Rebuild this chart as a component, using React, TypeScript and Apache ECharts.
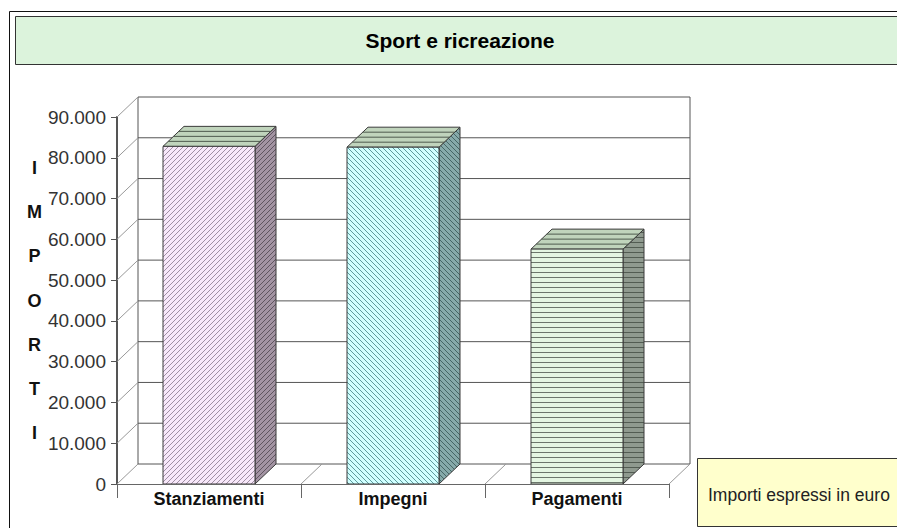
import React, { useEffect, useRef } from "react";
import * as echarts from "echarts";

const titleText = "Sport e ricreazione";
const noteText = "Importi espressi in euro";
const axisTitle = ["I", "M", "P", "O", "R", "T", "I"];
const categories = ["Stanziamenti", "Impegni", "Pagamenti"];
const amounts = [82800, 82600, 57600];
const tickValues = [0, 10000, 20000, 30000, 40000, 50000, 60000, 70000, 80000, 90000];
const bandIndexes = [0, 1, 2];

const DX = 21;
const DY = 20;
const FONT = '"Liberation Sans", Arial, sans-serif';

function hatch(kind: "up" | "down" | "flat", bg: string, fg: string) {
  const w = 5;
  const h = 5;
  const c = document.createElement("canvas");
  c.width = w;
  c.height = h;
  const g = c.getContext("2d")!;
  g.fillStyle = bg;
  g.fillRect(0, 0, w, h);
  g.strokeStyle = fg;
  g.lineWidth = 1;
  g.beginPath();
  if (kind === "flat") {
    g.moveTo(0, 2.5);
    g.lineTo(w, 2.5);
  } else if (kind === "up") {
    for (let k = -w; k <= w; k += w) {
      g.moveTo(k, h);
      g.lineTo(k + w, 0);
    }
  } else {
    for (let k = -w; k <= w; k += w) {
      g.moveTo(k, 0);
      g.lineTo(k + w, h);
    }
  }
  g.stroke();
  return { image: c, repeat: "repeat", imageWidth: w, imageHeight: h } as any;
}

export default function App() {
  const ref = useRef<HTMLDivElement>(null);
  useEffect(() => {
    const chart = echarts.init(ref.current!, undefined, { renderer: "svg" });
    const fronts = [
      hatch("up", "#f8e8fa", "#a08fa4"),
      hatch("down", "#d0ffff", "#5f9a9c"),
      hatch("flat", "#e4f6e2", "#6b766b"),
    ];
    const sides = [
      hatch("up", "#a394a3", "#5f545f"),
      hatch("down", "#86aaaa", "#456666"),
      hatch("flat", "#8f9a8f", "#525c52"),
    ];
    const wallLine = { stroke: "#555", lineWidth: 1 };
    const diagLine = { stroke: "#999", lineWidth: 1 };

    chart.setOption({
      animation: false,
      backgroundColor: "#fff",
      title: {
        text: titleText,
        left: 455,
        top: 25,
        textAlign: "center",
        textStyle: { fontFamily: FONT, fontSize: 21, fontWeight: "bold", color: "#000" },
      },
      graphic: [
        { type: "rect", z: -10, silent: true, shape: { x: 9.5, y: 11.5, width: 1000, height: 1000 }, style: { fill: "#fff", stroke: "#111", lineWidth: 1 } },
        { type: "rect", z: -9, silent: true, shape: { x: 15.5, y: 16.5, width: 1000, height: 48 }, style: { fill: "#dcf3dc", stroke: "#333", lineWidth: 1 } },
        { type: "rect", z: 20, silent: true, shape: { x: 697.5, y: 458.5, width: 300, height: 68 }, style: { fill: "#ffffcc", stroke: "#333", lineWidth: 1 } },
        { type: "text", z: 21, silent: true, style: { x: 708, y: 486, text: noteText, fill: "#222", font: `17.5px ${FONT}` } },
      ],
      grid: { left: 117, right: 228, top: 117, bottom: 44 },
      xAxis: {
        type: "category",
        data: categories,
        z: 5,
        axisLine: { lineStyle: { color: "#666", width: 1 } },
        axisTick: { show: true, length: 14, lineStyle: { color: "#666" } },
        axisLabel: { fontFamily: FONT, fontSize: 18, fontWeight: "bold", color: "#111", margin: 6 },
      },
      yAxis: {
        type: "value",
        min: 0,
        max: 90000,
        interval: 10000,
        name: axisTitle.join("\n"),
        nameLocation: "middle",
        nameRotate: 0,
        nameGap: 82,
        nameTextStyle: { fontFamily: FONT, fontSize: 18, fontWeight: "bold", color: "#111", lineHeight: 44.3, align: "center", padding: [20, 0, 0, 0] },
        splitLine: { show: false },
        axisLine: { show: true, lineStyle: { color: "#555", width: 2 } },
        axisTick: { show: true, length: 6, lineStyle: { color: "#555" } },
        axisLabel: {
          fontFamily: FONT,
          fontSize: 19,
          color: "#333",
          margin: 11,
          formatter: (v: number) => String(v).replace(/\B(?=(\d{3})+$)/g, "."),
        },
      },
      series: [
        {
          type: "custom",
          name: "griglia",
          silent: true,
          z: 1,
          encode: { x: 0, y: 1 },
          data: tickValues.map((v) => [0, v]),
          renderItem: (_p: any, api: any) => {
            const v = api.value(1);
            const band = api.size([1, 0])[0];
            const l = api.coord([0, v]);
            const r = api.coord([2, v]);
            const x0 = l[0] - band / 2;
            const x1 = r[0] + band / 2;
            const y = l[1];
            const children: any[] = [
              { type: "line", shape: { x1: x0 + DX, y1: y - DY, x2: x1 + DX, y2: y - DY }, style: wallLine },
              { type: "line", shape: { x1: x0, y1: y, x2: x0 + DX, y2: y - DY }, style: diagLine },
            ];
            if (v === 0) {
              const top = api.coord([0, tickValues[tickValues.length - 1]])[1];
              children.push(
                { type: "line", shape: { x1: x0 + DX, y1: y - DY, x2: x0 + DX, y2: top - DY }, style: wallLine },
                { type: "line", shape: { x1: x1 + DX, y1: y - DY, x2: x1 + DX, y2: top - DY }, style: wallLine },
              );
            }
            return { type: "group", children };
          },
        },
        {
          type: "custom",
          name: "pavimento",
          silent: true,
          z: 1,
          encode: { x: 0, y: 1 },
          data: bandIndexes.map((i) => [i, 0]),
          renderItem: (_p: any, api: any) => {
            const i = api.value(0);
            const band = api.size([1, 0])[0];
            const c = api.coord([i, 0]);
            const x = c[0] + band / 2;
            return { type: "line", shape: { x1: x, y1: c[1], x2: x + DX, y2: c[1] - DY }, style: diagLine };
          },
        },
        {
          type: "custom",
          name: "Importi",
          z: 3,
          encode: { x: 0, y: 1 },
          data: amounts.map((v, i) => [i, v]),
          renderItem: (_p: any, api: any) => {
            const i = api.value(0);
            const v = api.value(1);
            const band = api.size([1, 0])[0];
            const w = band / 2;
            const t = api.coord([i, v]);
            const b = api.coord([i, 0]);
            const xl = t[0] - w / 2;
            const xr = t[0] + w / 2;
            const yt = t[1];
            const yb = b[1];
            const edge = { stroke: "#3a3a3a", lineWidth: 1 };
            const topLines = [0.25, 0.5, 0.75].map((f) => ({
              type: "line",
              shape: { x1: xl + f * DX, y1: yt - f * DY, x2: xr + f * DX, y2: yt - f * DY },
              style: { stroke: "#4d5a4d", lineWidth: 1 },
            }));
            return {
              type: "group",
              children: [
                {
                  type: "polygon",
                  shape: { points: [[xr, yt], [xr + DX, yt - DY], [xr + DX, yb - DY], [xr, yb]] },
                  style: { fill: sides[i], ...edge },
                },
                {
                  type: "polygon",
                  shape: { points: [[xl, yt], [xl + DX, yt - DY], [xr + DX, yt - DY], [xr, yt]] },
                  style: { fill: "#c0d4bc", ...edge },
                },
                ...topLines,
                { type: "rect", shape: { x: xl, y: yt, width: w, height: yb - yt }, style: { fill: fronts[i], ...edge } },
              ],
            };
          },
        },
      ],
    });
    return () => chart.dispose();
  }, []);
  return <div ref={ref} style={{ position: "fixed", left: 0, top: 0, width: 897, height: 528 }} />;
}
